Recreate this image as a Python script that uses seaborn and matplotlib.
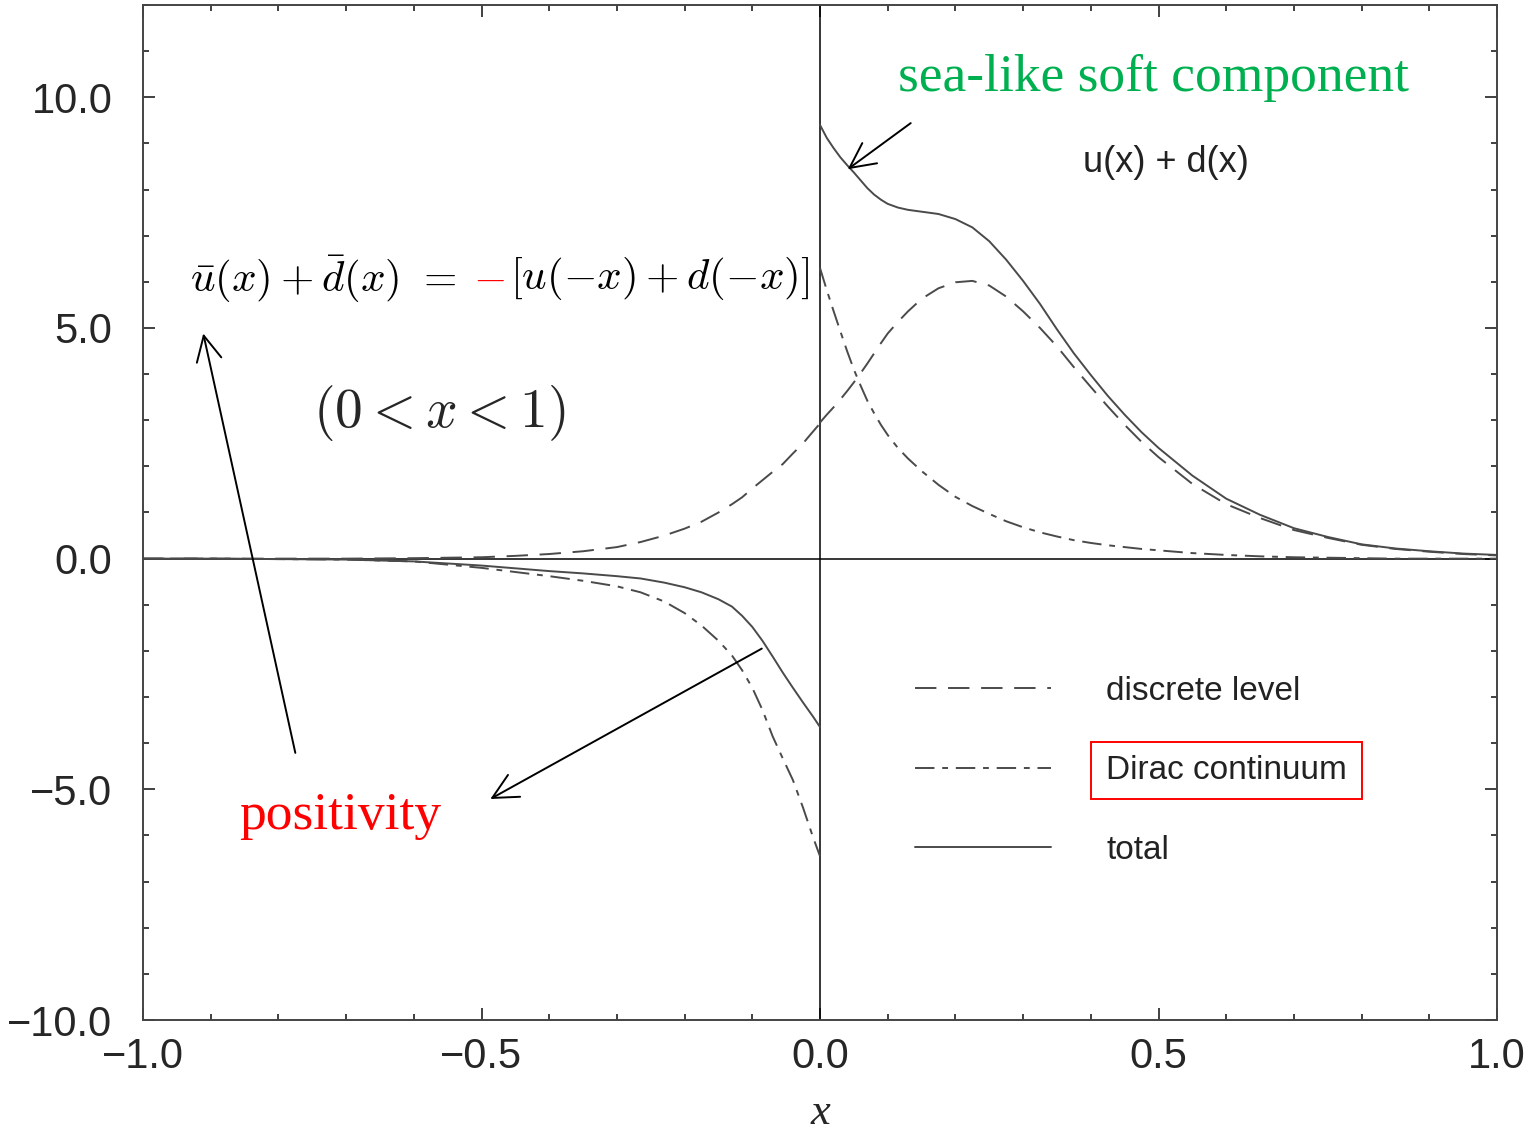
import numpy as np
import pandas as pd
import seaborn as sns
import matplotlib
matplotlib.use("Agg")
import matplotlib.pyplot as plt
from matplotlib.offsetbox import TextArea, HPacker, AnnotationBbox
from matplotlib.patches import Rectangle
from matplotlib.ticker import MultipleLocator, FuncFormatter

# ---------------- data ----------------
x_pos = [0.0, 0.01, 0.02, 0.03, 0.04, 0.05, 0.06, 0.07, 0.08, 0.09, 0.1, 0.115, 0.13,
         0.15, 0.175, 0.2, 0.225, 0.25, 0.275, 0.3, 0.325, 0.35, 0.375, 0.4, 0.425,
         0.45, 0.475, 0.5, 0.55, 0.6, 0.65, 0.7, 0.75, 0.8, 0.85, 0.9, 0.95, 1.0]
total_pos = [9.4, 9.12, 8.9, 8.7, 8.53, 8.37, 8.2, 8.03, 7.89, 7.78, 7.69, 7.61, 7.56,
             7.52, 7.47, 7.36, 7.18, 6.88, 6.48, 6.02, 5.52, 4.97, 4.45, 3.98, 3.53,
             3.12, 2.74, 2.4, 1.8, 1.3, 0.95, 0.66, 0.47, 0.31, 0.22, 0.16, 0.11, 0.08]
discrete_pos = [2.95, 3.12, 3.28, 3.45, 3.63, 3.82, 4.02, 4.23, 4.45, 4.67, 4.88, 5.13, 5.36,
                5.63, 5.86, 5.99, 6.02, 5.92, 5.68, 5.36, 5.0, 4.6, 4.15, 3.72, 3.3,
                2.9, 2.53, 2.2, 1.62, 1.18, 0.88, 0.62, 0.45, 0.3, 0.21, 0.15, 0.1, 0.07]
dirac_pos = [6.3, 5.82, 5.37, 4.93, 4.5, 4.1, 3.75, 3.42, 3.15, 2.9, 2.68, 2.4, 2.17,
             1.9, 1.6, 1.34, 1.14, 0.97, 0.81, 0.68, 0.57, 0.48, 0.4, 0.34, 0.29,
             0.25, 0.21, 0.18, 0.12, 0.08, 0.05, 0.03, 0.02, 0.01, 0.0, 0.0, 0.0, 0.0]

x_neg = [-1.0, -0.9, -0.8, -0.7, -0.6, -0.5, -0.45, -0.4, -0.35, -0.3, -0.265, -0.23,
         -0.2, -0.175, -0.15, -0.13, -0.115, -0.1, -0.085, -0.07, -0.055, -0.04,
         -0.025, -0.01, 0.0]
total_neg = [0.0, 0.0, -0.01, -0.02, -0.06, -0.15, -0.21, -0.27, -0.32, -0.38, -0.43, -0.52,
             -0.62, -0.73, -0.88, -1.04, -1.24, -1.48, -1.78, -2.12, -2.47, -2.8,
             -3.12, -3.43, -3.65]
discrete_neg = [0.0, 0.0, 0.0, 0.0, 0.01, 0.03, 0.06, 0.1, 0.16, 0.25, 0.36, 0.5,
                0.65, 0.8, 1.0, 1.18, 1.33, 1.52, 1.7, 1.88, 2.05, 2.28,
                2.5, 2.76, 2.93]
dirac_neg = [0.0, 0.0, -0.01, -0.02, -0.06, -0.2, -0.29, -0.38, -0.48, -0.6, -0.73, -0.93,
             -1.18, -1.45, -1.78, -2.1, -2.42, -2.8, -3.28, -3.85, -4.33, -4.8,
             -5.4, -6.05, -6.45]

legend_labels = ["discrete level", "Dirac continuum", "total"]
x_ticks = [-1.0, -0.5, 0.0, 0.5, 1.0]
y_ticks = [-10.0, -5.0, 0.0, 5.0, 10.0]

# ---------------- style ----------------
sns.set_theme(style="ticks")
plt.rcParams["font.family"] = ["Liberation Sans", "DejaVu Sans"]
plt.rcParams["mathtext.fontset"] = "cm"
plt.rcParams["axes.unicode_minus"] = True

W, H = 1524, 1137
fig = plt.figure(figsize=(W / 100, H / 100), dpi=100)
ax = fig.add_axes([143 / W, 1 - 1020 / H, (1497 - 143) / W, (1020 - 5) / H])

line_color = "#4a4a4a"
lw = 1.4
styles = {
    "discrete level": (0, (11, 6)),
    "Dirac continuum": (0, (10, 4, 3, 4)),
    "total": "-",
}

ax.axhline(0, color="black", lw=1.1, zorder=1)
ax.axvline(0, color="black", lw=1.1, zorder=1)

series = [
    ("discrete level", discrete_neg, discrete_pos),
    ("Dirac continuum", dirac_neg, dirac_pos),
    ("total", total_neg, total_pos),
]
handles = {}
for name, yneg, ypos in series:
    sns.lineplot(x=x_neg, y=yneg, ax=ax, color=line_color, linewidth=lw,
                 linestyle=styles[name], estimator=None, sort=False, zorder=2)
    sns.lineplot(x=x_pos, y=ypos, ax=ax, color=line_color, linewidth=lw,
                 linestyle=styles[name], estimator=None, sort=False, zorder=2)
    handles[name] = ax.lines[-1]

if ax.get_legend() is not None:
    ax.get_legend().remove()

fmt = FuncFormatter(lambda v, p: f"{v:.1f}".replace("-", "\u2212"))
ax.set_xlim(-1.0, 1.0)
ax.set_ylim(-10.0, 12.0)
ax.set_xticks(x_ticks)
ax.set_yticks(y_ticks)
ax.xaxis.set_minor_locator(MultipleLocator(0.1))
ax.yaxis.set_minor_locator(MultipleLocator(1.0))
ax.xaxis.set_major_formatter(fmt)
ax.yaxis.set_major_formatter(fmt)
ax.tick_params(which="both", direction="in", top=True, right=True, color="#333333", width=1.3)
ax.tick_params(which="major", length=8.6)
ax.tick_params(which="minor", length=4.3)
ax.tick_params(axis="x", which="major", labelsize=30, pad=12)
ax.tick_params(axis="y", which="major", labelsize=30, pad=22)
for sp in ax.spines.values():
    sp.set_color("#444444")
    sp.set_linewidth(1.4)

ax.set_xlabel("x", fontsize=32, family="Liberation Serif", style="italic", labelpad=12)
ax.set_ylabel("")

# ---------------- legend ----------------
leg = ax.legend([handles[n] for n in legend_labels], legend_labels,
                loc="upper left", bbox_to_anchor=(0.570, 0.339), frameon=False,
                fontsize=24, handlelength=4.1, handletextpad=1.65, labelspacing=1.45,
                borderpad=0, borderaxespad=0)
for t in leg.get_texts():
    t.set_color("#222222")

# ---------------- annotations ----------------
serif = "Liberation Serif"
arrow_kw = dict(arrowstyle="->,head_length=0.6,head_width=0.3", lw=1.4,
                color="black", mutation_scale=30, shrinkA=0, shrinkB=0)
ax.text(0.493, 10.41, "sea-like soft component", color="#00b050", fontsize=38.5,
        family=serif, ha="center", va="center")
ax.annotate("", xy=(0.041, 8.44), xytext=(0.134, 9.44), arrowprops=arrow_kw)
ax.text(0.511, 8.59, "u(x) + d(x)", fontsize=26, ha="center", va="center", color="#222222")

ax.text(-0.709, -5.57, "positivity", color="red", fontsize=38.5, family=serif,
        ha="center", va="center")
ax.annotate("", xy=(-0.911, 4.88), xytext=(-0.775, -4.21), arrowprops=arrow_kw)
ax.annotate("", xy=(-0.487, -5.21), xytext=(-0.086, -1.95), arrowprops=arrow_kw)

eq_fs = 31
left_part = HPacker(children=[
    TextArea(r"$\bar{u}(x)+\bar{d}(x)$", textprops=dict(fontsize=eq_fs, color="black")),
    TextArea(r"$=$", textprops=dict(fontsize=eq_fs, color="black")),
    TextArea(r"$-$", textprops=dict(fontsize=eq_fs, color="red")),
], pad=0, sep=12, align="center")
eq_box = HPacker(children=[
    left_part,
    TextArea(r"$[u(-x)+d(-x)]$", textprops=dict(fontsize=eq_fs, color="black")),
], pad=0, sep=4, align="center")
ab = AnnotationBbox(eq_box, (-0.931, 6.07), xycoords="data", box_alignment=(0, 0.5),
                    frameon=False, pad=0)
ax.add_artist(ab)

ax.text(-0.563, 3.15, r"$(\mathsf{0}<x<\mathsf{1})$", fontsize=40, ha="center", va="center")

# ---------------- red box around "Dirac continuum" ----------------
fig.canvas.draw()
renderer = fig.canvas.get_renderer()
bb = leg.get_texts()[1].get_window_extent(renderer)
px, py = 15, 13
x0, y0 = bb.x0 - px, bb.y0 - py
rect = Rectangle((x0 / W, y0 / H), (bb.width + 2 * px) / W, (bb.height + 2 * py) / H,
                 transform=fig.transFigure, fill=False, edgecolor="red", lw=1.4)
fig.add_artist(rect)

fig.savefig("out.png", dpi=100)
